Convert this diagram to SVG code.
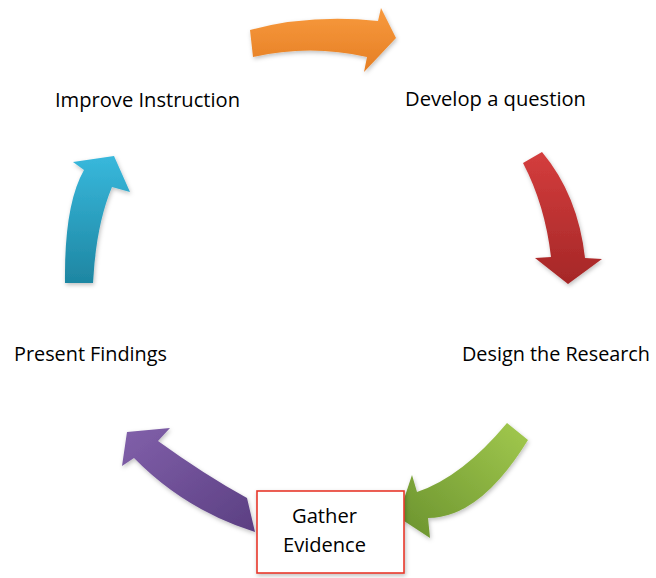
<svg xmlns="http://www.w3.org/2000/svg" width="656" height="578" viewBox="0 0 656 578">
<defs>
<linearGradient id="gOrange" x1="0" y1="0" x2="0" y2="1"><stop offset="0" stop-color="#F89A3E"/><stop offset="1" stop-color="#E57E23"/></linearGradient>
<linearGradient id="gRed" x1="0" y1="0" x2="0" y2="1"><stop offset="0" stop-color="#D43D3D"/><stop offset="1" stop-color="#A52727"/></linearGradient>
<linearGradient id="gGreen" x1="1" y1="0" x2="0" y2="1"><stop offset="0" stop-color="#A2C94E"/><stop offset="1" stop-color="#6A922E"/></linearGradient>
<linearGradient id="gPurple" x1="0" y1="0" x2="1" y2="1"><stop offset="0" stop-color="#8160AA"/><stop offset="1" stop-color="#5B3F82"/></linearGradient>
<linearGradient id="gBlue" x1="0" y1="0" x2="0" y2="1"><stop offset="0" stop-color="#38B8DC"/><stop offset="1" stop-color="#1E86A2"/></linearGradient>
<filter id="sh" x="-20%" y="-20%" width="140%" height="140%"><feDropShadow dx="1" dy="2" stdDeviation="2" flood-color="#000" flood-opacity="0.25"/></filter>
</defs>
<style>
.lbl{font-family:"Open Sans","Noto Sans","Liberation Sans",sans-serif;font-size:20px;fill:#000}
.arrow{filter:url(#sh)}
</style>
<g id="connectors">
<path class="arrow" fill="url(#gOrange)" d="M250,30 Q310,14 378,21 L381,8 L396,38 L364,72 L367,57 Q310,44 253,57 Z"/>
<path class="arrow" fill="url(#gRed)" d="M523,163 L542,152 Q578,195 585,258 L602,259 L568,284 L535,258 L551,257 Q545,205 523,163 Z"/>
<path class="arrow" fill="url(#gGreen)" d="M507,423 L528,440 Q480,518 428,518 L430,538 L398,517 L412,475 L417,492 Q462,477 507,423 Z"/>
<path class="arrow" fill="url(#gPurple)" d="M255,532 L247,498 Q205,475 158,441 L170,428 L127,432 L122,466 L134,458 Q185,510 255,532 Z"/>
<path class="arrow" fill="url(#gBlue)" d="M65,283 Q64,205 84,170 L73,162 L114,156 L130,192 L112,187 Q96,225 93,283 Z"/>
</g>
<g id="improve"><text class="lbl" x="55" y="107" textLength="185" lengthAdjust="spacingAndGlyphs">Improve Instruction</text></g>
<g id="develop"><text class="lbl" x="405" y="106" textLength="181" lengthAdjust="spacingAndGlyphs">Develop a question</text></g>
<g id="design"><text class="lbl" x="462" y="361" textLength="188" lengthAdjust="spacingAndGlyphs">Design the Research</text></g>
<g id="present"><text class="lbl" x="14" y="361" textLength="153" lengthAdjust="spacingAndGlyphs">Present Findings</text></g>
<g id="gather">
<rect x="257" y="491" width="147" height="82" fill="#fff" stroke="#E8392A" stroke-width="1.6" filter="url(#sh)"/>
<text class="lbl" x="324.5" y="523" text-anchor="middle" textLength="65" lengthAdjust="spacingAndGlyphs">Gather</text>
<text class="lbl" x="324.5" y="552" text-anchor="middle" textLength="83" lengthAdjust="spacingAndGlyphs">Evidence</text>
</g>
</svg>
